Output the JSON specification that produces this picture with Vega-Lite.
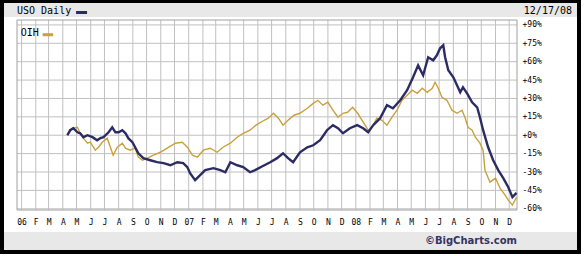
{
  "$schema": "https://vega.github.io/schema/vega-lite/v6.json",
  "background": "#000000",
  "padding": {"left": 4, "top": 3, "right": 4, "bottom": 4},
  "spacing": 0,
  "bounds": "flush",
  "config": {
    "view": {"stroke": null},
    "concat": {"spacing": 0},
    "axis": {"labelFont": "DejaVu Sans Mono", "labelFontSize": 8, "labelColor": "#000000"}
  },
  "datasets": {
    "prices": [
      {"series": "OIH", "date": "2006-04-11", "pct": 0},
      {"series": "OIH", "date": "2006-04-22", "pct": 5.7},
      {"series": "OIH", "date": "2006-05-03", "pct": 6.5},
      {"series": "OIH", "date": "2006-05-09", "pct": 1.6},
      {"series": "OIH", "date": "2006-05-16", "pct": -2.4},
      {"series": "OIH", "date": "2006-05-25", "pct": -6.5},
      {"series": "OIH", "date": "2006-05-31", "pct": -5.7},
      {"series": "OIH", "date": "2006-06-11", "pct": -12.2},
      {"series": "OIH", "date": "2006-06-18", "pct": -9.8},
      {"series": "OIH", "date": "2006-06-26", "pct": -5.7},
      {"series": "OIH", "date": "2006-07-07", "pct": -2.4},
      {"series": "OIH", "date": "2006-07-14", "pct": -9.8},
      {"series": "OIH", "date": "2006-07-20", "pct": -16.3},
      {"series": "OIH", "date": "2006-07-29", "pct": -9.8},
      {"series": "OIH", "date": "2006-08-09", "pct": -6.5},
      {"series": "OIH", "date": "2006-08-16", "pct": -10.6},
      {"series": "OIH", "date": "2006-08-26", "pct": -12.2},
      {"series": "OIH", "date": "2006-09-06", "pct": -10.6},
      {"series": "OIH", "date": "2006-09-13", "pct": -17.9},
      {"series": "OIH", "date": "2006-09-22", "pct": -20.4},
      {"series": "OIH", "date": "2006-10-03", "pct": -18.7},
      {"series": "OIH", "date": "2006-10-16", "pct": -16.3},
      {"series": "OIH", "date": "2006-10-31", "pct": -13.9},
      {"series": "OIH", "date": "2006-11-15", "pct": -10.6},
      {"series": "OIH", "date": "2006-12-03", "pct": -6.5},
      {"series": "OIH", "date": "2006-12-18", "pct": -5.7},
      {"series": "OIH", "date": "2006-12-29", "pct": -9.8},
      {"series": "OIH", "date": "2007-01-09", "pct": -16.3},
      {"series": "OIH", "date": "2007-01-20", "pct": -17.9},
      {"series": "OIH", "date": "2007-02-02", "pct": -12.2},
      {"series": "OIH", "date": "2007-02-17", "pct": -10.6},
      {"series": "OIH", "date": "2007-03-04", "pct": -13.9},
      {"series": "OIH", "date": "2007-03-17", "pct": -9.8},
      {"series": "OIH", "date": "2007-04-02", "pct": -6.5},
      {"series": "OIH", "date": "2007-04-17", "pct": -1.6},
      {"series": "OIH", "date": "2007-04-30", "pct": 1.6},
      {"series": "OIH", "date": "2007-05-15", "pct": 4.1},
      {"series": "OIH", "date": "2007-05-28", "pct": 8.2},
      {"series": "OIH", "date": "2007-06-11", "pct": 11.4},
      {"series": "OIH", "date": "2007-06-24", "pct": 13.9},
      {"series": "OIH", "date": "2007-07-05", "pct": 17.9},
      {"series": "OIH", "date": "2007-07-16", "pct": 13.9},
      {"series": "OIH", "date": "2007-07-26", "pct": 8.2},
      {"series": "OIH", "date": "2007-08-06", "pct": 12.2},
      {"series": "OIH", "date": "2007-08-19", "pct": 16.3},
      {"series": "OIH", "date": "2007-09-01", "pct": 17.9},
      {"series": "OIH", "date": "2007-09-17", "pct": 22},
      {"series": "OIH", "date": "2007-09-30", "pct": 26},
      {"series": "OIH", "date": "2007-10-10", "pct": 28.5},
      {"series": "OIH", "date": "2007-10-21", "pct": 24.5},
      {"series": "OIH", "date": "2007-11-01", "pct": 26.9},
      {"series": "OIH", "date": "2007-11-12", "pct": 20.4},
      {"series": "OIH", "date": "2007-11-23", "pct": 14.7},
      {"series": "OIH", "date": "2007-12-04", "pct": 17.9},
      {"series": "OIH", "date": "2007-12-14", "pct": 18.7},
      {"series": "OIH", "date": "2007-12-25", "pct": 22.8},
      {"series": "OIH", "date": "2008-01-05", "pct": 17.9},
      {"series": "OIH", "date": "2008-01-17", "pct": 10.6},
      {"series": "OIH", "date": "2008-01-28", "pct": 4.1},
      {"series": "OIH", "date": "2008-02-05", "pct": 6.5},
      {"series": "OIH", "date": "2008-02-16", "pct": 13.9},
      {"series": "OIH", "date": "2008-02-27", "pct": 12.2},
      {"series": "OIH", "date": "2008-03-09", "pct": 8.2},
      {"series": "OIH", "date": "2008-03-20", "pct": 14.7},
      {"series": "OIH", "date": "2008-03-31", "pct": 20.4},
      {"series": "OIH", "date": "2008-04-11", "pct": 28.5},
      {"series": "OIH", "date": "2008-04-22", "pct": 32.6},
      {"series": "OIH", "date": "2008-05-03", "pct": 36.7},
      {"series": "OIH", "date": "2008-05-14", "pct": 34.2},
      {"series": "OIH", "date": "2008-05-25", "pct": 38.3},
      {"series": "OIH", "date": "2008-06-05", "pct": 35},
      {"series": "OIH", "date": "2008-06-16", "pct": 38.3},
      {"series": "OIH", "date": "2008-06-22", "pct": 43.2},
      {"series": "OIH", "date": "2008-06-29", "pct": 38.3},
      {"series": "OIH", "date": "2008-07-07", "pct": 31},
      {"series": "OIH", "date": "2008-07-18", "pct": 28.5},
      {"series": "OIH", "date": "2008-07-29", "pct": 20.4},
      {"series": "OIH", "date": "2008-08-09", "pct": 17.9},
      {"series": "OIH", "date": "2008-08-20", "pct": 20.4},
      {"series": "OIH", "date": "2008-08-27", "pct": 13.9},
      {"series": "OIH", "date": "2008-09-02", "pct": 6.5},
      {"series": "OIH", "date": "2008-09-11", "pct": 4.1},
      {"series": "OIH", "date": "2008-09-18", "pct": -1.6},
      {"series": "OIH", "date": "2008-09-28", "pct": -6.5},
      {"series": "OIH", "date": "2008-10-05", "pct": -12.2},
      {"series": "OIH", "date": "2008-10-09", "pct": -28.5},
      {"series": "OIH", "date": "2008-10-20", "pct": -38.3},
      {"series": "OIH", "date": "2008-11-01", "pct": -35},
      {"series": "OIH", "date": "2008-11-11", "pct": -43.2},
      {"series": "OIH", "date": "2008-11-22", "pct": -48.9},
      {"series": "OIH", "date": "2008-11-29", "pct": -53},
      {"series": "OIH", "date": "2008-12-08", "pct": -57},
      {"series": "OIH", "date": "2008-12-17", "pct": -50.5},
      {"series": "USO", "date": "2006-04-11", "pct": 0},
      {"series": "USO", "date": "2006-04-17", "pct": 4.1},
      {"series": "USO", "date": "2006-04-24", "pct": 5.7},
      {"series": "USO", "date": "2006-05-03", "pct": 2.4},
      {"series": "USO", "date": "2006-05-09", "pct": 1.6},
      {"series": "USO", "date": "2006-05-16", "pct": -1.6},
      {"series": "USO", "date": "2006-05-25", "pct": 0},
      {"series": "USO", "date": "2006-06-05", "pct": -1.6},
      {"series": "USO", "date": "2006-06-15", "pct": -4.1},
      {"series": "USO", "date": "2006-06-22", "pct": -2.4},
      {"series": "USO", "date": "2006-06-29", "pct": -1.6},
      {"series": "USO", "date": "2006-07-10", "pct": 2.4},
      {"series": "USO", "date": "2006-07-18", "pct": 6.5},
      {"series": "USO", "date": "2006-07-25", "pct": 2.4},
      {"series": "USO", "date": "2006-08-01", "pct": 2.4},
      {"series": "USO", "date": "2006-08-09", "pct": 4.1},
      {"series": "USO", "date": "2006-08-16", "pct": 1.6},
      {"series": "USO", "date": "2006-08-22", "pct": -2.4},
      {"series": "USO", "date": "2006-08-31", "pct": -5.7},
      {"series": "USO", "date": "2006-09-06", "pct": -9.8},
      {"series": "USO", "date": "2006-09-13", "pct": -14.7},
      {"series": "USO", "date": "2006-09-24", "pct": -18.7},
      {"series": "USO", "date": "2006-10-09", "pct": -20.4},
      {"series": "USO", "date": "2006-10-24", "pct": -22},
      {"series": "USO", "date": "2006-11-07", "pct": -22.8},
      {"series": "USO", "date": "2006-11-22", "pct": -24.5},
      {"series": "USO", "date": "2006-12-07", "pct": -22},
      {"series": "USO", "date": "2006-12-20", "pct": -22.8},
      {"series": "USO", "date": "2006-12-29", "pct": -26},
      {"series": "USO", "date": "2007-01-04", "pct": -31},
      {"series": "USO", "date": "2007-01-15", "pct": -36.7},
      {"series": "USO", "date": "2007-01-26", "pct": -32.6},
      {"series": "USO", "date": "2007-02-06", "pct": -28.5},
      {"series": "USO", "date": "2007-02-24", "pct": -26.9},
      {"series": "USO", "date": "2007-03-11", "pct": -28.5},
      {"series": "USO", "date": "2007-03-22", "pct": -30.2},
      {"series": "USO", "date": "2007-04-02", "pct": -22},
      {"series": "USO", "date": "2007-04-17", "pct": -24.5},
      {"series": "USO", "date": "2007-04-30", "pct": -26},
      {"series": "USO", "date": "2007-05-15", "pct": -30.2},
      {"series": "USO", "date": "2007-05-26", "pct": -28.5},
      {"series": "USO", "date": "2007-06-11", "pct": -25.3},
      {"series": "USO", "date": "2007-06-28", "pct": -22},
      {"series": "USO", "date": "2007-07-13", "pct": -18.7},
      {"series": "USO", "date": "2007-07-26", "pct": -14.7},
      {"series": "USO", "date": "2007-08-06", "pct": -18.7},
      {"series": "USO", "date": "2007-08-17", "pct": -22},
      {"series": "USO", "date": "2007-09-01", "pct": -13.9},
      {"series": "USO", "date": "2007-09-17", "pct": -9.8},
      {"series": "USO", "date": "2007-09-30", "pct": -8.2},
      {"series": "USO", "date": "2007-10-15", "pct": -4.1},
      {"series": "USO", "date": "2007-10-30", "pct": 4.1},
      {"series": "USO", "date": "2007-11-12", "pct": 8.2},
      {"series": "USO", "date": "2007-11-23", "pct": 5.7},
      {"series": "USO", "date": "2007-12-04", "pct": 1.6},
      {"series": "USO", "date": "2007-12-19", "pct": 5.7},
      {"series": "USO", "date": "2008-01-04", "pct": 8.2},
      {"series": "USO", "date": "2008-01-17", "pct": 5.7},
      {"series": "USO", "date": "2008-01-28", "pct": 2.4},
      {"series": "USO", "date": "2008-02-08", "pct": 8.2},
      {"series": "USO", "date": "2008-02-23", "pct": 13.9},
      {"series": "USO", "date": "2008-03-09", "pct": 24.5},
      {"series": "USO", "date": "2008-03-22", "pct": 22},
      {"series": "USO", "date": "2008-04-07", "pct": 28.5},
      {"series": "USO", "date": "2008-04-22", "pct": 36.7},
      {"series": "USO", "date": "2008-05-05", "pct": 47.3},
      {"series": "USO", "date": "2008-05-16", "pct": 57},
      {"series": "USO", "date": "2008-05-27", "pct": 48.9},
      {"series": "USO", "date": "2008-06-07", "pct": 63.6},
      {"series": "USO", "date": "2008-06-18", "pct": 61.1},
      {"series": "USO", "date": "2008-06-26", "pct": 65.2},
      {"series": "USO", "date": "2008-07-03", "pct": 70.9},
      {"series": "USO", "date": "2008-07-10", "pct": 73.4},
      {"series": "USO", "date": "2008-07-14", "pct": 63.6},
      {"series": "USO", "date": "2008-07-21", "pct": 53},
      {"series": "USO", "date": "2008-08-01", "pct": 47.3},
      {"series": "USO", "date": "2008-08-09", "pct": 40.8},
      {"series": "USO", "date": "2008-08-16", "pct": 35},
      {"series": "USO", "date": "2008-08-22", "pct": 39.1},
      {"series": "USO", "date": "2008-08-31", "pct": 34.2},
      {"series": "USO", "date": "2008-09-11", "pct": 26.9},
      {"series": "USO", "date": "2008-09-22", "pct": 22.8},
      {"series": "USO", "date": "2008-09-28", "pct": 14.7},
      {"series": "USO", "date": "2008-10-05", "pct": 4.1},
      {"series": "USO", "date": "2008-10-16", "pct": -9.8},
      {"series": "USO", "date": "2008-10-27", "pct": -20.4},
      {"series": "USO", "date": "2008-11-07", "pct": -28.5},
      {"series": "USO", "date": "2008-11-18", "pct": -35},
      {"series": "USO", "date": "2008-11-29", "pct": -42.4},
      {"series": "USO", "date": "2008-12-08", "pct": -50.5},
      {"series": "USO", "date": "2008-12-17", "pct": -47}
    ],
    "months": [
      {"m": "2006-01-01"}, {"m": "2006-02-01"}, {"m": "2006-03-01"}, {"m": "2006-04-01"},
      {"m": "2006-05-01"}, {"m": "2006-06-01"}, {"m": "2006-07-01"}, {"m": "2006-08-01"},
      {"m": "2006-09-01"}, {"m": "2006-10-01"}, {"m": "2006-11-01"}, {"m": "2006-12-01"},
      {"m": "2007-01-01"}, {"m": "2007-02-01"}, {"m": "2007-03-01"}, {"m": "2007-04-01"},
      {"m": "2007-05-01"}, {"m": "2007-06-01"}, {"m": "2007-07-01"}, {"m": "2007-08-01"},
      {"m": "2007-09-01"}, {"m": "2007-10-01"}, {"m": "2007-11-01"}, {"m": "2007-12-01"},
      {"m": "2008-01-01"}, {"m": "2008-02-01"}, {"m": "2008-03-01"}, {"m": "2008-04-01"},
      {"m": "2008-05-01"}, {"m": "2008-06-01"}, {"m": "2008-07-01"}, {"m": "2008-08-01"},
      {"m": "2008-09-01"}, {"m": "2008-10-01"}, {"m": "2008-11-01"}, {"m": "2008-12-01"}
    ],
    "levels": [
      {"v": -60}, {"v": -45}, {"v": -30}, {"v": -15}, {"v": 0}, {"v": 15},
      {"v": 30}, {"v": 45}, {"v": 60}, {"v": 75}, {"v": 90}
    ]
  },
  "vconcat": [
    {
      "width": 573,
      "height": 14,
      "view": {"fill": "#e8e8e8", "stroke": null},
      "data": {"values": [{"header": "USO Daily", "asof": "12/17/08"}]},
      "layer": [
        {
          "mark": {"type": "text", "align": "left", "baseline": "middle", "font": "DejaVu Sans Mono", "fontSize": 10, "color": "#000000"},
          "encoding": {
            "text": {"field": "header"},
            "x": {"datum": {"year": 2005, "month": 12, "date": 22, "utc": true}, "type": "temporal",
                  "scale": {"type": "utc", "domain": [{"year": 2005, "month": 12, "date": 22, "utc": true}, {"year": 2008, "month": 12, "date": 18, "utc": true}], "range": [13, 513]},
                  "axis": null},
            "y": {"datum": -0.2, "type": "quantitative", "scale": {"domain": [-1, 1], "nice": false, "zero": false}, "axis": null}
          }
        },
        {
          "mark": {"type": "rule", "color": "#2c2c64", "strokeWidth": 3},
          "encoding": {
            "x": {"datum": {"year": 2006, "month": 4, "date": 30, "utc": true}, "type": "temporal"},
            "x2": {"datum": {"year": 2006, "month": 5, "date": 24, "utc": true}},
            "y": {"datum": -0.36, "type": "quantitative"}
          }
        },
        {
          "mark": {"type": "text", "align": "right", "baseline": "middle", "dx": 55, "font": "DejaVu Sans Mono", "fontSize": 10, "color": "#000000"},
          "encoding": {
            "text": {"field": "asof"},
            "x": {"datum": {"year": 2008, "month": 12, "date": 18, "utc": true}, "type": "temporal"},
            "y": {"datum": -0.2, "type": "quantitative"}
          }
        }
      ]
    },
    {
      "width": 573,
      "height": 215,
      "view": {"fill": "#ffffff", "stroke": null},
      "layer": [
        {
          "data": {"name": "levels"},
          "mark": {"type": "rule", "color": "#c0c0c0", "strokeWidth": 1},
          "encoding": {
            "x": {"datum": {"year": 2005, "month": 12, "date": 22, "utc": true}, "type": "temporal",
                  "scale": {"type": "utc", "domain": [{"year": 2005, "month": 12, "date": 22, "utc": true}, {"year": 2008, "month": 12, "date": 18, "utc": true}], "range": [13, 513], "nice": false}},
            "x2": {"datum": {"year": 2008, "month": 12, "date": 18, "utc": true}},
            "y": {"field": "v", "type": "quantitative", "title": null,
                  "scale": {"domain": [-61, 94], "range": [193, 3], "nice": false, "zero": false},
                  "axis": {"orient": "right", "offset": -60, "title": null, "domain": false, "ticks": false, "tickSize": 0, "grid": false,
                           "values": [-60, -45, -30, -15, 0, 15, 30, 45, 60, 75, 90], "tickCount": 50, "labelPadding": 5, "labelAlign": "left",
                           "labelOverlap": false, "labelFlush": false,
                           "labelExpr": "(datum.value >= 0 ? '+' : '') + datum.value + '%'"}}
          }
        },
        {
          "data": {"name": "months"},
          "mark": {"type": "rule", "color": "#c0c0c0", "strokeWidth": 1},
          "encoding": {
            "x": {"field": "m", "type": "temporal", "title": null,
                  "axis": {"orient": "bottom", "offset": -22, "title": null, "domain": false, "ticks": false, "tickSize": 0, "grid": false,
                           "tickCount": {"interval": "month", "step": 1}, "labelOverlap": false, "labelFlush": false,
                           "labelPadding": 12, "labelBaseline": "middle",
                           "labelExpr": "utcmonth(datum.value) == 0 ? utcFormat(datum.value, '%y') : slice(utcFormat(datum.value, '%b'), 0, 1)"}},
            "y": {"datum": -61, "type": "quantitative"},
            "y2": {"datum": 94}
          }
        },
        {
          "data": {"values": [{"frame": "plot"}]},
          "mark": {"type": "rect", "fill": null, "fillOpacity": 0, "stroke": "#a0a0a0", "strokeWidth": 1},
          "encoding": {
            "x": {"datum": {"year": 2005, "month": 12, "date": 22, "utc": true}, "type": "temporal"},
            "x2": {"datum": {"year": 2008, "month": 12, "date": 18, "utc": true}},
            "y": {"datum": -61, "type": "quantitative"},
            "y2": {"datum": 94}
          }
        },
        {
          "data": {"name": "prices"},
          "transform": [{"filter": "datum.series == 'OIH'"}],
          "mark": {"type": "line", "color": "#c9a03c", "strokeWidth": 1.4},
          "encoding": {
            "x": {"field": "date", "type": "temporal", "title": null},
            "y": {"field": "pct", "type": "quantitative", "title": null}
          }
        },
        {
          "data": {"name": "prices"},
          "transform": [{"filter": "datum.series == 'USO'"}],
          "mark": {"type": "line", "color": "#2c2c64", "strokeWidth": 2.4},
          "encoding": {
            "x": {"field": "date", "type": "temporal", "title": null},
            "y": {"field": "pct", "type": "quantitative", "title": null}
          }
        },
        {
          "data": {"values": [{"label": "OIH"}]},
          "mark": {"type": "text", "align": "left", "baseline": "middle", "font": "DejaVu Sans Mono", "fontSize": 10, "color": "#000000"},
          "encoding": {
            "text": {"field": "label"},
            "x": {"datum": {"year": 2005, "month": 12, "date": 30, "utc": true}, "type": "temporal"},
            "y": {"datum": 83, "type": "quantitative"}
          }
        },
        {
          "data": {"values": [{"label": "OIH"}]},
          "mark": {"type": "rule", "color": "#c9a03c", "strokeWidth": 3},
          "encoding": {
            "x": {"datum": {"year": 2006, "month": 2, "date": 16, "utc": true}, "type": "temporal"},
            "x2": {"datum": {"year": 2006, "month": 3, "date": 11, "utc": true}},
            "y": {"datum": 82, "type": "quantitative"}
          }
        }
      ]
    },
    {
      "width": 573,
      "height": 18,
      "view": {"fill": "#e8e8e8", "stroke": null},
      "data": {"values": [{"credit": "©BigCharts.com"}]},
      "mark": {"type": "text", "align": "right", "baseline": "middle", "font": "DejaVu Sans", "fontWeight": "bold", "fontSize": 10, "color": "#333366"},
      "encoding": {
        "text": {"field": "credit"},
        "x": {"datum": {"year": 2008, "month": 12, "date": 18, "utc": true}, "type": "temporal",
              "scale": {"type": "utc", "domain": [{"year": 2005, "month": 12, "date": 22, "utc": true}, {"year": 2008, "month": 12, "date": 18, "utc": true}], "range": [13, 513]},
              "axis": null},
        "y": {"datum": 0, "type": "quantitative", "scale": {"domain": [-1, 1], "nice": false, "zero": false}, "axis": null}
      }
    }
  ]
}
